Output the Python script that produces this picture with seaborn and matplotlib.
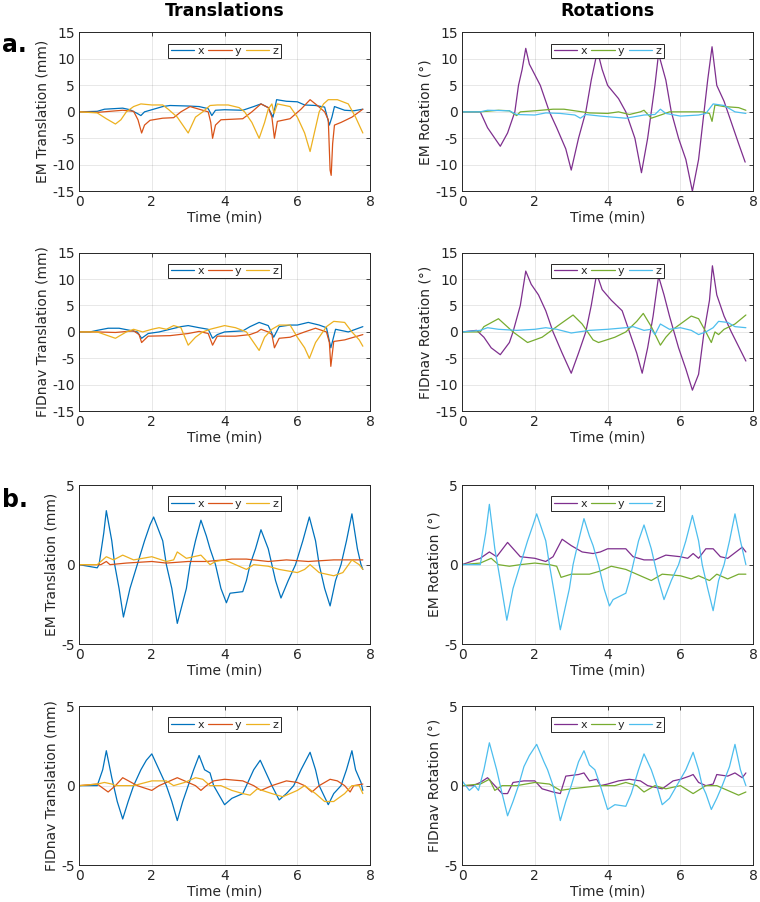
import pandas as pd
import numpy as np
import seaborn as sns
import matplotlib
matplotlib.use("Agg")
import matplotlib.pyplot as plt

# (time in min, value) pairs
# a. EM translation
a_em_tr_x = [(0,0),(0.5,0.1),(0.7,0.5),(1.2,0.7),(1.4,0.4),(1.6,-0.3),(1.7,-0.7),(1.8,0),(2.0,0.4),(2.3,1.0),(2.5,1.2),(3.0,1.1),(3.3,1.0),(3.55,0.6),(3.65,-0.7),(3.75,0.3),(4.0,0.4),(4.5,0.3),(4.8,1.0),(5.0,1.5),(5.2,0.8),(5.33,-1.0),(5.43,2.3),(5.7,2.0),(6.0,1.9),(6.2,1.3),(6.5,1.2),(6.75,0.9),(6.88,-2.5),(6.95,-1.0),(7.02,1.0),(7.3,0.3),(7.55,0.2),(7.8,0.5)]
a_em_tr_y = [(0,0),(0.5,-0.1),(1.2,0.3),(1.5,0.1),(1.62,-1.5),(1.72,-4.0),(1.8,-2.5),(1.95,-1.6),(2.3,-1.2),(2.6,-1.1),(2.8,0),(3.05,1.0),(3.3,0.5),(3.55,0),(3.62,-2.0),(3.67,-5.0),(3.75,-2.5),(3.9,-1.5),(4.5,-1.3),(4.75,0),(5.0,1.5),(5.2,0.8),(5.3,-1.0),(5.37,-5.0),(5.45,-1.8),(5.8,-1.3),(6.1,0.5),(6.35,2.3),(6.55,1.2),(6.75,0),(6.85,-1.5),(6.9,-11.0),(6.93,-12.0),(6.97,-6.0),(7.02,-2.5),(7.2,-2.0),(7.5,-1.0),(7.8,0.5)]
a_em_tr_z = [(0,0),(0.5,-0.2),(0.75,-1.3),(1.0,-2.3),(1.15,-1.5),(1.3,0),(1.5,1.0),(1.7,1.5),(2.0,1.3),(2.3,1.3),(2.45,0.5),(2.7,-1.0),(3.0,-4.0),(3.2,-1.0),(3.4,0),(3.6,1.2),(3.8,1.3),(4.1,1.3),(4.4,0.8),(4.55,0),(4.75,-2.0),(4.95,-5.0),(5.1,-2.0),(5.2,0.5),(5.3,1.5),(5.36,-0.3),(5.45,1.5),(5.8,1.0),(6.0,-1.0),(6.2,-4.0),(6.35,-7.5),(6.5,-3.0),(6.6,0),(6.72,1.5),(6.85,2.3),(7.1,2.3),(7.4,1.5),(7.6,-1.0),(7.8,-4.0)]

# a. EM rotation
a_em_rot_x = [(0,0),(0.5,0),(0.7,-3.0),(0.9,-5.0),(1.05,-6.5),(1.25,-4.0),(1.45,0),(1.55,5.0),(1.65,8.0),(1.75,12.0),(1.85,9.0),(2.15,5.0),(2.4,0),(2.6,-3.0),(2.85,-7.0),(3.0,-11.0),(3.2,-5.0),(3.4,0),(3.55,6.0),(3.72,11.5),(3.85,8.0),(4.0,5.0),(4.3,2.5),(4.5,0),(4.75,-5.0),(4.93,-11.5),(5.1,-5.0),(5.3,5.0),(5.4,11.0),(5.6,6.0),(5.75,0),(5.95,-5.0),(6.15,-9.0),(6.33,-15.0),(6.5,-9.0),(6.65,0),(6.75,6.0),(6.87,12.3),(7.0,5.0),(7.2,2.0),(7.4,-2.0),(7.6,-6.0),(7.78,-9.5)]
a_em_rot_y = [(0,0),(0.5,0),(1.0,0.3),(1.3,0.2),(1.5,-0.7),(1.6,0),(2.0,0.2),(2.5,0.5),(2.8,0.5),(3.1,0.2),(3.5,-0.2),(4.0,-0.3),(4.3,0),(4.6,-0.5),(4.9,0),(5.0,0.3),(5.2,-1.2),(5.5,-0.5),(5.7,0),(6.3,0),(6.6,0),(6.8,-0.3),(6.87,-1.8),(6.95,1.3),(7.2,1.0),(7.6,0.8),(7.8,0.3)]
a_em_rot_z = [(0,0),(0.5,0),(0.7,0.3),(1.3,0.2),(1.5,-0.5),(2.0,-0.6),(2.3,-0.2),(2.7,-0.3),(3.1,-0.6),(3.25,-1.2),(3.4,-0.5),(3.8,-0.8),(4.5,-1.2),(5.0,-0.6),(5.3,-0.5),(5.45,0.5),(5.6,-0.3),(6.0,-0.8),(6.5,-0.6),(6.7,-0.3),(6.9,1.5),(7.2,1.2),(7.5,0),(7.8,-0.3)]

# a. FIDnav translation
a_fn_tr_x = [(0,0),(0.3,0),(0.5,0.3),(0.8,0.7),(1.1,0.7),(1.4,0.3),(1.6,0),(1.72,-1.2),(1.9,-0.3),(2.2,0),(2.5,0.5),(2.8,1.0),(3.0,1.2),(3.3,0.8),(3.55,0.5),(3.67,-1.2),(3.8,-0.5),(4.0,0),(4.5,0.2),(4.7,1.0),(4.95,1.8),(5.2,1.2),(5.35,-1.0),(5.5,1.0),(5.8,1.3),(6.0,1.3),(6.3,1.8),(6.6,1.3),(6.8,0.8),(6.92,-3.0),(7.05,0.5),(7.4,0),(7.8,1.0)]
a_fn_tr_y = [(0,0),(0.5,0),(1.0,-0.1),(1.5,0.2),(1.65,-0.5),(1.72,-2.0),(1.9,-0.8),(2.5,-0.7),(3.0,-0.3),(3.3,0.1),(3.55,-0.3),(3.67,-2.5),(3.8,-0.8),(4.3,-0.8),(4.7,-0.5),(4.9,0),(5.0,0.5),(5.2,0),(5.3,-0.5),(5.37,-3.0),(5.5,-1.2),(5.8,-1.0),(6.0,-0.5),(6.2,0),(6.5,0.7),(6.8,0),(6.88,-2.0),(6.92,-6.5),(7.0,-1.8),(7.3,-1.5),(7.8,-0.5)]
a_fn_tr_z = [(0,0),(0.5,0),(1.0,-1.2),(1.3,0),(1.5,0.5),(1.75,0),(2.0,0.5),(2.2,0.8),(2.4,0.5),(2.6,1.2),(2.8,0.8),(3.0,-2.5),(3.2,-1.0),(3.4,0),(3.6,0.5),(4.0,1.2),(4.3,0.8),(4.6,0),(4.8,-2.0),(4.95,-3.5),(5.1,-1.0),(5.3,0.5),(5.5,1.3),(5.8,1.3),(6.0,-1.0),(6.2,-3.0),(6.33,-5.0),(6.5,-2.0),(6.7,0),(6.8,1.0),(7.0,2.0),(7.3,1.8),(7.5,0),(7.7,-1.5),(7.8,-2.7)]

# a. FIDnav rotation
a_fn_rot_x = [(0,0),(0.4,0.3),(0.6,-1.0),(0.8,-3.0),(1.05,-4.3),(1.3,-2.0),(1.4,0),(1.6,5.0),(1.75,11.5),(1.9,9.0),(2.1,7.0),(2.3,4.0),(2.5,0),(2.75,-4.0),(3.0,-7.8),(3.2,-4.0),(3.4,0),(3.55,5.0),(3.7,11.0),(3.85,8.0),(4.1,6.0),(4.4,4.0),(4.6,0),(4.8,-4.0),(4.95,-7.8),(5.1,-3.0),(5.25,3.0),(5.4,10.5),(5.55,7.0),(5.7,3.0),(5.95,-3.0),(6.15,-7.0),(6.33,-11.0),(6.5,-8.0),(6.65,0),(6.8,6.0),(6.88,12.5),(7.0,7.0),(7.2,3.0),(7.4,0),(7.8,-5.5)]
a_fn_rot_y = [(0,0),(0.5,0),(0.6,1.0),(1.0,2.5),(1.4,0),(1.7,-1.5),(1.8,-2.0),(2.2,-1.0),(2.5,0.5),(2.7,1.5),(3.05,3.2),(3.3,1.5),(3.6,-1.5),(3.75,-2.0),(4.2,-1.0),(4.5,0),(4.8,2.0),(4.98,3.5),(5.2,1.0),(5.45,-2.5),(5.6,-1.0),(5.8,0.5),(6.1,2.0),(6.3,3.0),(6.5,2.5),(6.7,0),(6.85,-2.0),(6.95,0),(7.05,-0.5),(7.2,0.5),(7.5,1.5),(7.8,3.2)]
a_fn_rot_z = [(0,0),(0.5,0.3),(0.7,0.8),(1.0,0.5),(1.5,0.3),(2.0,0.5),(2.3,0.8),(2.6,0.5),(3.0,-0.2),(3.5,0.3),(4.0,0.5),(4.5,0.8),(4.7,1.0),(5.0,0.3),(5.2,0.5),(5.3,-0.5),(5.45,1.5),(5.7,0.5),(6.0,0.8),(6.3,0.3),(6.5,-0.5),(6.7,0),(6.9,0.8),(7.05,2.0),(7.3,1.8),(7.5,1.0),(7.8,0.8)]

# b. EM translation
b_em_tr_x = [(0,0),(0.5,-0.2),(0.55,0),(0.68,2.0),(0.75,3.4),(0.9,1.5),(0.98,0),(1.1,-1.5),(1.22,-3.3),(1.4,-1.5),(1.6,0),(1.8,1.5),(1.95,2.5),(2.05,3.0),(2.3,1.5),(2.4,0),(2.55,-1.5),(2.7,-3.7),(2.95,-1.5),(3.05,0),(3.2,1.5),(3.35,2.8),(3.5,1.8),(3.6,1.0),(3.75,0),(3.9,-1.5),(4.05,-2.4),(4.15,-1.8),(4.5,-1.7),(4.6,-1.0),(4.7,0),(4.85,1.0),(5.0,2.2),(5.2,1.0),(5.3,0),(5.4,-1.0),(5.55,-2.1),(5.75,-1.0),(5.95,0),(6.15,1.5),(6.33,3.0),(6.5,1.5),(6.6,0),(6.75,-1.5),(6.9,-2.6),(7.05,-1.0),(7.2,0),(7.35,1.5),(7.5,3.2),(7.65,1.0),(7.75,0),(7.8,-0.3)]
b_em_tr_y = [(0,0),(0.6,0),(0.75,0.2),(0.85,0),(1.3,0.1),(2.0,0.2),(2.4,0.1),(3.0,0.2),(3.5,0.2),(4.2,0.35),(4.6,0.35),(5.2,0.2),(5.7,0.3),(6.3,0.2),(7.0,0.3),(7.8,0.3)]
b_em_tr_z = [(0,0),(0.5,0),(0.75,0.5),(0.95,0.3),(1.2,0.6),(1.5,0.3),(2.0,0.5),(2.4,0.2),(2.6,0.3),(2.7,0.8),(2.95,0.4),(3.35,0.6),(3.6,0),(3.75,0.2),(4.0,0.3),(4.3,0),(4.6,-0.3),(4.8,0),(5.2,-0.1),(5.5,-0.3),(6.0,-0.5),(6.2,-0.3),(6.35,0),(6.6,-0.5),(7.0,-0.7),(7.25,-0.5),(7.5,0.3),(7.7,0),(7.8,-0.3)]

# b. EM rotation
b_em_rot_x = [(0,0),(0.5,0.4),(0.75,0.8),(0.95,0.5),(1.25,1.4),(1.6,0.5),(2.0,0.4),(2.3,0.2),(2.5,0.5),(2.75,1.6),(3.0,1.2),(3.3,0.8),(3.6,0.7),(3.8,0.8),(4.0,1.0),(4.5,1.0),(4.7,0.5),(5.0,0.3),(5.3,0.3),(5.6,0.6),(6.0,0.5),(6.2,0.4),(6.35,0.7),(6.5,0.4),(6.7,1.0),(6.9,1.0),(7.1,0.5),(7.3,0.4),(7.7,1.1),(7.8,0.8)]
b_em_rot_y = [(0,0),(0.5,0.1),(0.8,0.4),(1.0,0),(1.3,-0.1),(1.6,0),(2.0,0.1),(2.4,0),(2.6,-0.1),(2.72,-0.8),(3.0,-0.6),(3.5,-0.6),(3.8,-0.4),(4.1,-0.1),(4.5,-0.3),(5.0,-0.8),(5.2,-1.0),(5.5,-0.6),(6.0,-0.7),(6.3,-0.9),(6.5,-0.7),(6.8,-1.0),(7.0,-0.6),(7.3,-0.9),(7.6,-0.6),(7.8,-0.6)]
b_em_rot_z = [(0,0),(0.5,0),(0.65,2.0),(0.75,3.8),(0.9,1.0),(1.05,-1.0),(1.23,-3.5),(1.4,-1.5),(1.6,0),(1.8,1.5),(1.95,2.5),(2.05,3.2),(2.3,1.5),(2.4,0),(2.55,-2.0),(2.7,-4.1),(2.95,-1.5),(3.05,0),(3.2,1.5),(3.35,2.9),(3.5,1.8),(3.6,1.2),(3.75,0),(3.9,-1.5),(4.05,-2.6),(4.15,-2.2),(4.5,-1.8),(4.6,-1.0),(4.7,0),(4.85,1.5),(5.0,2.5),(5.2,1.0),(5.3,0),(5.4,-1.0),(5.55,-2.2),(5.75,-1.0),(5.95,0),(6.15,1.5),(6.33,3.1),(6.5,1.5),(6.6,0),(6.75,-1.5),(6.9,-2.9),(7.05,-1.0),(7.2,0),(7.35,1.5),(7.5,3.2),(7.65,1.5),(7.8,0)]

# b. FIDnav translation
b_fn_tr_x = [(0,0),(0.5,0),(0.65,1.0),(0.75,2.2),(0.9,0.5),(1.05,-1.0),(1.2,-2.1),(1.35,-1.0),(1.5,0),(1.7,1.0),(1.85,1.6),(2.0,2.0),(2.2,1.0),(2.4,0),(2.55,-1.0),(2.7,-2.2),(2.85,-1.0),(3.0,0),(3.15,1.0),(3.3,1.9),(3.45,1.0),(3.6,0.8),(3.7,0),(3.9,-0.8),(4.0,-1.2),(4.2,-0.8),(4.5,-0.5),(4.6,0),(4.8,1.0),(4.98,1.6),(5.2,0.5),(5.3,0),(5.5,-0.9),(5.7,-0.5),(5.9,0),(6.1,1.0),(6.35,2.1),(6.5,1.0),(6.6,0),(6.85,-1.2),(7.0,-0.5),(7.2,0),(7.35,1.0),(7.5,2.2),(7.6,1.0),(7.75,0.2),(7.8,-0.3)]
b_fn_tr_y = [(0,0),(0.5,0.1),(0.8,-0.4),(1.0,0),(1.2,0.5),(1.6,0),(2.0,-0.3),(2.2,0),(2.5,0.3),(2.7,0.5),(2.9,0.3),(3.2,0),(3.35,-0.3),(3.5,0),(3.7,0.3),(4.0,0.4),(4.5,0.3),(4.8,0),(5.0,-0.3),(5.3,0),(5.7,0.3),(6.0,0.2),(6.2,0),(6.4,-0.4),(6.6,0),(6.9,0.4),(7.1,0.3),(7.3,0),(7.45,-0.4),(7.55,0),(7.8,0.1)]
b_fn_tr_z = [(0,0),(0.5,0.1),(0.7,0.2),(0.9,0.1),(1.0,0),(1.5,0),(2.0,0.3),(2.4,0.3),(2.6,0),(2.9,0.2),(3.2,0.5),(3.4,0.4),(3.6,0),(3.9,0),(4.2,-0.3),(4.5,-0.5),(4.7,-0.6),(4.9,-0.2),(5.3,-0.5),(5.6,-0.7),(5.8,-0.5),(6.0,-0.3),(6.2,0),(6.5,-0.5),(6.75,-1.0),(7.0,-1.0),(7.3,-0.5),(7.5,0),(7.7,0),(7.8,-0.5)]

# b. FIDnav rotation
b_fn_rot_x = [(0,0),(0.3,0),(0.5,0.2),(0.7,0.5),(0.9,0),(1.1,-0.5),(1.25,-0.5),(1.4,0.2),(1.7,0.3),(2.0,0.3),(2.2,-0.2),(2.5,-0.4),(2.7,-0.5),(2.85,0.6),(3.2,0.7),(3.35,0.8),(3.5,0.3),(3.7,0.4),(3.8,0),(4.0,0.1),(4.3,0.3),(4.6,0.4),(4.9,0.3),(5.1,0),(5.5,-0.2),(5.8,0.3),(6.0,0.4),(6.25,0.6),(6.35,0.7),(6.5,0.2),(6.7,0),(6.9,0.1),(7.0,0.7),(7.3,0.6),(7.5,0.8),(7.7,0.5),(7.8,0.8)]
b_fn_rot_y = [(0,0),(0.5,0.1),(0.75,0.4),(0.9,-0.3),(1.1,0),(1.5,0),(2.0,0.2),(2.4,0.1),(2.7,-0.3),(3.0,-0.2),(3.4,-0.1),(3.8,0),(4.2,0),(4.5,0.2),(4.8,0),(5.0,-0.4),(5.3,0),(5.6,-0.2),(6.0,0),(6.35,-0.5),(6.7,0),(7.0,0),(7.3,-0.3),(7.6,-0.6),(7.8,-0.4)]
b_fn_rot_z = [(0,0.3),(0.2,-0.3),(0.35,0),(0.45,-0.3),(0.6,1.0),(0.75,2.7),(0.95,1.0),(1.1,-0.5),(1.25,-1.9),(1.4,-1.0),(1.55,0),(1.7,1.2),(1.85,1.9),(2.05,2.6),(2.25,1.5),(2.35,1.0),(2.5,0),(2.7,-2.2),(2.85,-1.0),(3.0,0),(3.2,1.5),(3.35,2.2),(3.5,1.3),(3.65,1.0),(3.8,0),(4.0,-1.5),(4.2,-1.2),(4.5,-1.3),(4.65,-0.5),(4.85,1.0),(5.0,2.0),(5.2,1.0),(5.35,0),(5.5,-1.2),(5.7,-0.8),(5.9,0),(6.15,1.0),(6.35,2.1),(6.5,1.0),(6.6,0),(6.7,-0.5),(6.85,-1.5),(7.0,-0.8),(7.15,0),(7.35,1.2),(7.5,2.6),(7.65,1.0),(7.8,0)]

trans_colors = ["#0072BD", "#D95319", "#EDB120"]
rot_colors = ["#7E2F8E", "#77AC30", "#4DBEEE"]
axis_names = ["x", "y", "z"]

sns.set_theme(style="white")
plt.rcParams["font.family"] = ["DejaVu Sans"]
plt.rcParams["axes.unicode_minus"] = False
plt.rcParams["text.color"] = "#262626"
plt.rcParams["axes.labelcolor"] = "#262626"


def make_df(sx, sy, sz):
    rows = []
    for name, pts in zip(axis_names, [sx, sy, sz]):
        for t, v in pts:
            rows.append((name, t, v))
    return pd.DataFrame(rows, columns=["axis", "t", "v"])


def draw(ax, series, colors, ylabel, ylim, yticks):
    df = make_df(*series)
    sns.lineplot(data=df, x="t", y="v", hue="axis", hue_order=axis_names,
                 palette=colors, estimator=None, sort=False, lw=0.9, ax=ax)
    ax.set_xlim(0, 8)
    ax.set_ylim(*ylim)
    ax.set_xticks([0, 2, 4, 6, 8])
    ax.set_yticks(yticks)
    ax.grid(True, color="#262626", alpha=0.12, lw=0.6)
    ax.tick_params(direction="in", top=True, right=True, labelsize=10,
                   colors="#262626", length=3, width=0.6, pad=3)
    for s in ax.spines.values():
        s.set_visible(True)
        s.set_color("#262626")
        s.set_linewidth(0.7)
    ax.set_xlabel("Time (min)", fontsize=10, labelpad=1)
    ax.set_ylabel(ylabel, fontsize=10, labelpad=2)
    leg = ax.legend(loc="upper center", bbox_to_anchor=(0.5, 0.965), ncol=3,
                    fontsize=8, handlelength=2.1, handletextpad=0.3,
                    columnspacing=0.4, borderpad=0.2, fancybox=False,
                    framealpha=1, edgecolor="#262626", title=None)
    leg.get_frame().set_linewidth(0.7)


fig = plt.figure(figsize=(7.6, 9.02), dpi=100)
lefts = [0.104, 0.608]
bottoms = [0.788, 0.544, 0.286, 0.041]
w, h = 0.383, 0.176

big = (-15, 15)
big_ticks = [-15, -10, -5, 0, 5, 10, 15]
small = (-5, 5)
small_ticks = [-5, 0, 5]

panels = [
    (0, 0, [a_em_tr_x, a_em_tr_y, a_em_tr_z], trans_colors, "EM Translation (mm)", big, big_ticks),
    (1, 0, [a_em_rot_x, a_em_rot_y, a_em_rot_z], rot_colors, "EM Rotation (°)", big, big_ticks),
    (0, 1, [a_fn_tr_x, a_fn_tr_y, a_fn_tr_z], trans_colors, "FIDnav Translation (mm)", big, big_ticks),
    (1, 1, [a_fn_rot_x, a_fn_rot_y, a_fn_rot_z], rot_colors, "FIDnav Rotation (°)", big, big_ticks),
    (0, 2, [b_em_tr_x, b_em_tr_y, b_em_tr_z], trans_colors, "EM Translation (mm)", small, small_ticks),
    (1, 2, [b_em_rot_x, b_em_rot_y, b_em_rot_z], rot_colors, "EM Rotation (°)", small, small_ticks),
    (0, 3, [b_fn_tr_x, b_fn_tr_y, b_fn_tr_z], trans_colors, "FIDnav Translation (mm)", small, small_ticks),
    (1, 3, [b_fn_rot_x, b_fn_rot_y, b_fn_rot_z], rot_colors, "FIDnav Rotation (°)", small, small_ticks),
]

for col, row, series, colors, ylabel, ylim, yticks in panels:
    ax = fig.add_axes([lefts[col], bottoms[row], w, h])
    draw(ax, series, colors, ylabel, ylim, yticks)

fig.text(225 / 760, 1 - 11 / 902, "Translations", ha="center", va="center",
         fontsize=12.5, fontweight="bold", color="black")
fig.text(607 / 760, 1 - 11 / 902, "Rotations", ha="center", va="center",
         fontsize=12.5, fontweight="bold", color="black")
fig.text(2 / 760, 1 - 45 / 902, "a.", ha="left", va="center",
         fontsize=17, fontweight="bold", color="black")
fig.text(2 / 760, 1 - 500 / 902, "b.", ha="left", va="center",
         fontsize=17, fontweight="bold", color="black")

fig.savefig("out.png", dpi=100, facecolor="white")
